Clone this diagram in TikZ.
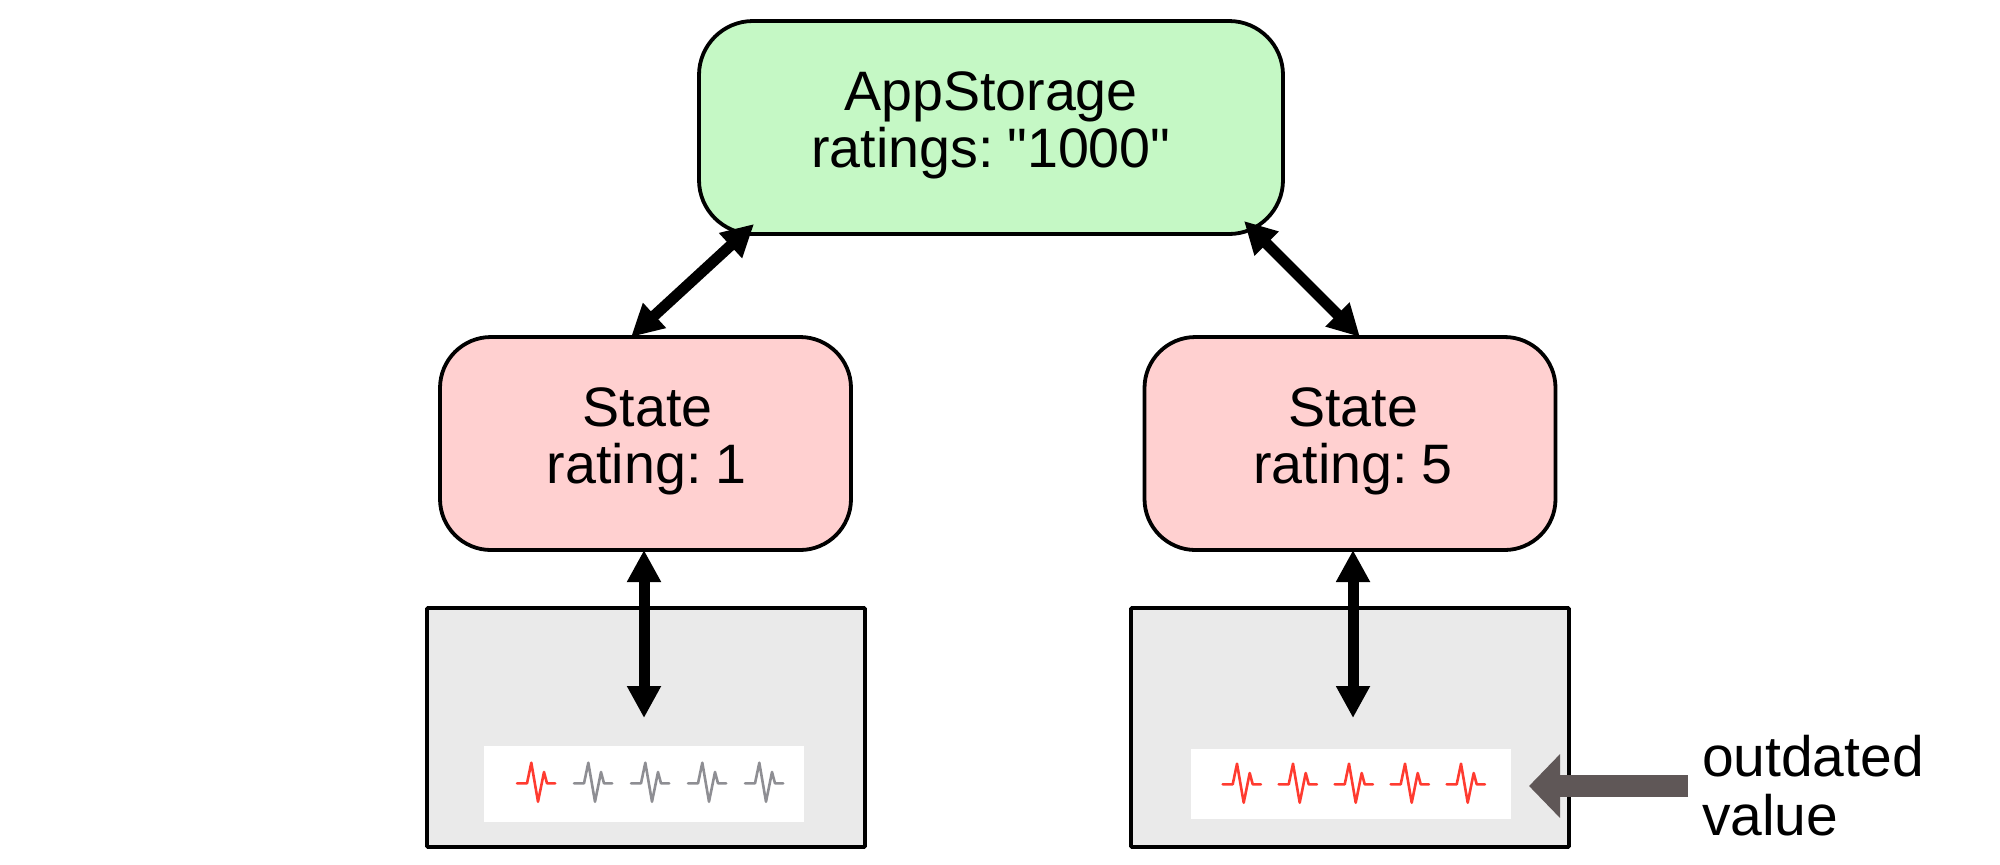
\documentclass[tikz,border=0pt]{standalone}
\usepackage{fontspec}
\setmainfont{Liberation Sans}[Ligatures=TeXOff,WordSpace=0.55]
\usetikzlibrary{arrows.meta}
\definecolor{grn}{HTML}{C5F8C5}
\definecolor{pnk}{HTML}{FFD0D0}
\definecolor{gbox}{HTML}{EAEAEA}
\definecolor{hred}{HTML}{FF3B30}
\definecolor{hgray}{HTML}{8E8E93}
\definecolor{pointer}{HTML}{5F5757}
\tikzset{
  x=0.5pt,y=-0.5pt,
  boxline/.style={draw=black,line width=1.9pt,inner sep=0pt,outer sep=0pt,align=center,
    text depth=8pt,font=\fontsize{27.8}{28.5}\selectfont},
  store/.style={boxline,fill=grn,rounded corners=27pt,minimum width=292pt,minimum height=106.5pt},
  statebox/.style={boxline,fill=pnk,rounded corners=25.5pt,minimum width=205.5pt,minimum height=106.5pt},
  viewbox/.style={boxline,fill=gbox,rounded corners=0.5pt,minimum width=219pt,minimum height=119.5pt},
  strip/.style={fill=white,inner sep=0pt,outer sep=0pt,minimum width=160pt},
  link/.style={line width=5.5pt,{Triangle[length=16pt,width=16pt]}-{Triangle[length=16pt,width=16pt]}},
  pulse/.pic={\draw[line width=#1,line join=round,line cap=round,pic actions]
     (-19,0)--(-9,0)--(-4.7,-20.6)--(2,18.4)--(8,-11.3)--(11,0)--(19.2,0);},
  pulse/.default=1pt,
  note/.style={inner sep=0pt,outer sep=0pt,align=left,font=\fontsize{28.5}{29.5}\selectfont}
}
\begin{document}
\begin{tikzpicture}
\useasboundingbox (0,0) rectangle (2000,864);
\node[viewbox] (viewL) at (646,727.5) {};
\node[viewbox] (viewR) at (1350,727.5) {};
\node[strip,minimum height=38pt] (stripL) at (644,784) {};
\node[strip,minimum height=35pt] (stripR) at (1351,784) {};
\node[store] (store) at (991,127.5) {AppStorage\\ratings: "1000"};
\node[statebox] (stateL) at (645.5,443.5) {\hspace*{2pt}State\\\hspace*{1pt}rating: 1};
\node[statebox] (stateR) at (1350,443.5) {\hspace*{3pt}State\\\hspace*{3pt}rating: 5};
\foreach \i in {0,...,4} {
  \ifnum\i=0 \def\c{hred}\else\def\c{hgray}\fi
  \pic[\c] at ({536+57*\i},783.3) {pulse=1.3pt};
  \pic[hred] at ({1241.7+56*\i},784.3) {pulse=1.3pt};
}
\draw[link] ([shift={(55,-10)}]store.south west) -- ([shift={(-14.5,0)}]stateL.north);
\draw[link] ([shift={(-39,-13)}]store.south east) -- ([shift={(10,0)}]stateR.north);
\draw[link] ([shift={(-1.5,0)}]stateL.south) -- ([shift={(0,-28)}]stripL.north);
\draw[link] ([shift={(3,0)}]stateR.south) -- ([shift={(2,-31)}]stripR.north);
\node[note,anchor=base west] (note) at (1702,835) {outdated\\value};
\coordinate (tail) at (1688,786);
\draw[pointer,line width=11pt,-{Triangle[length=15.5pt,width=31pt]}] (tail) -- ([shift={(18,2)}]stripR.east);
\end{tikzpicture}
\end{document}
